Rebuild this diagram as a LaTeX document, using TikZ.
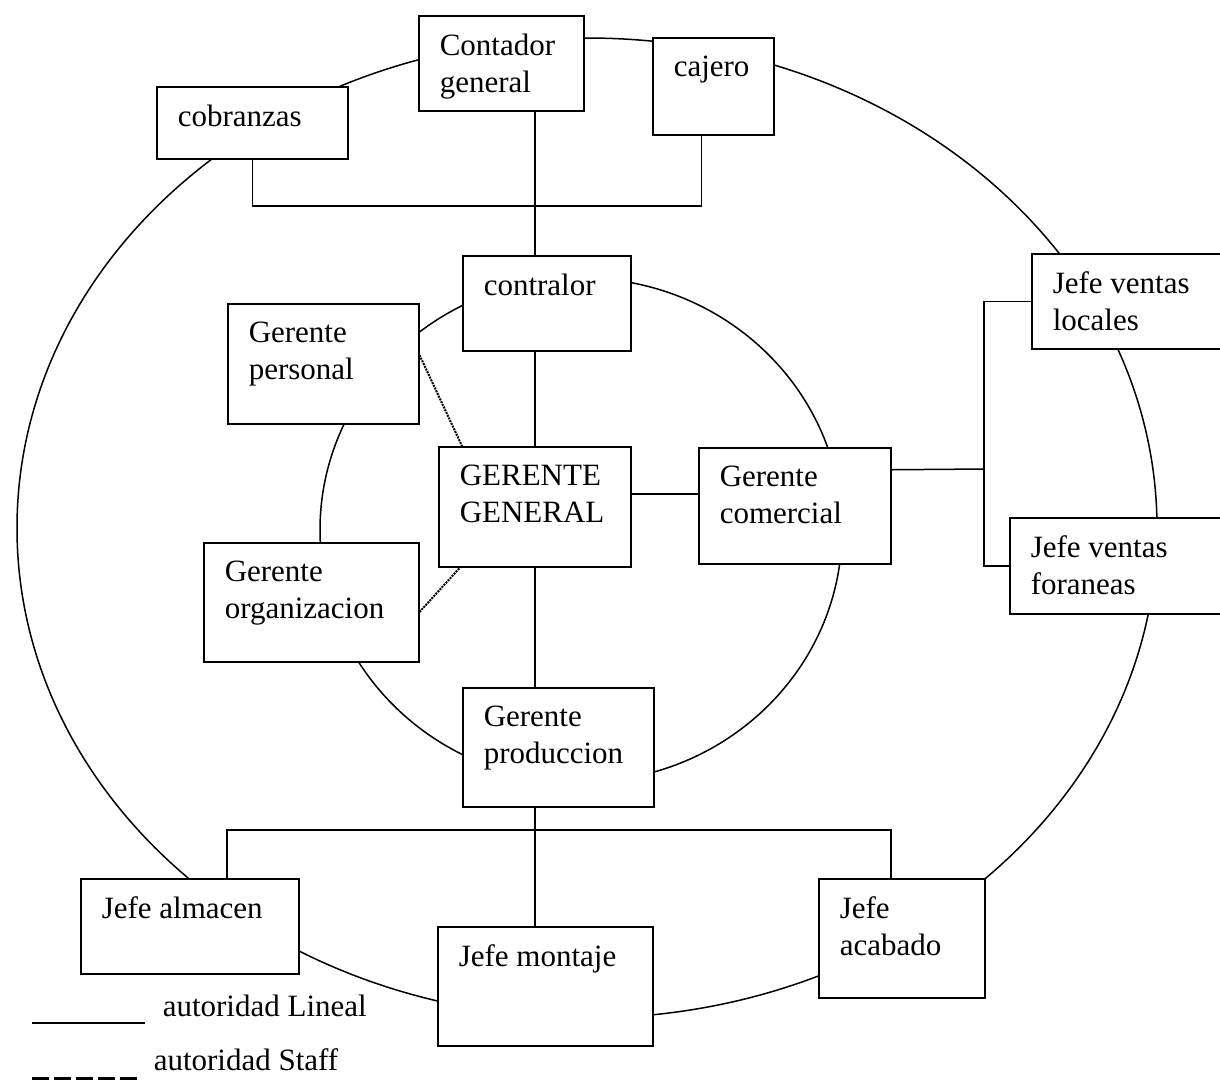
\documentclass[tikz,border=0pt]{standalone}
\usepackage{fontspec}
\setmainfont{Liberation Serif}
\usetikzlibrary{positioning}

\begin{document}
\begin{tikzpicture}[
    x=1pt, y=-1pt,
    line width=1.5pt,
    every node/.style={font=\fontsize{31}{37}\selectfont},
    unit/.style 2 args={draw, fill=white, anchor=north west, inner xsep=21pt, inner ysep=18pt,
        execute at begin node={\begin{minipage}[t][\dimexpr#2pt-36pt\relax][t]{\dimexpr#1pt-42pt\relax}},
        execute at end node={\end{minipage}}},
    staff/.style={densely dotted, line width=2pt},
    legend/.style={anchor=base west, inner sep=0pt}
]
\clip (0,0) rectangle (1220,1080);

\draw (587,528) ellipse [x radius=570pt, y radius=490pt];
\draw (581,530) ellipse [x radius=261pt, y radius=252pt];

\node[unit={165}{95}] (contador) at (418,15) {Contador\\general};
\node[unit={121}{97}] (cajero) at (652,37) {cajero};
\node[unit={191}{72}] (cobranzas) at (156,86) {cobranzas};
\node[unit={168}{95}] (contralor) at (462,255) {contralor};
\node[unit={191}{120}] (personal) at (227,303) {Gerente\\personal};
\node[unit={192}{120}] (gg) at (438,446) {GERENTE\\GENERAL};
\node[unit={192}{116}] (comercial) at (698,447) {Gerente\\comercial};
\node[unit={215}{119}] (organizacion) at (203,542) {Gerente\\organizacion};
\node[unit={191}{119}] (produccion) at (462,687) {Gerente\\produccion};
\node[unit={220}{95}] (locales) at (1031,253) {Jefe ventas\\locales};
\node[unit={240}{96}] (foraneas) at (1009,517) {Jefe ventas\\foraneas};
\node[unit={218}{95}] (almacen) at (80,878) {Jefe almacen};
\node[unit={215}{119}] (montaje) at (437,926) {Jefe montaje};
\node[unit={166}{119}] (acabado) at (818,878) {Jefe\\acabado};

\coordinate (cajbar) at (534,206);
\coordinate (ventas) at (984,469);
\coordinate (prodbar) at (534,830);

\draw (contador.south -| gg) -- (contralor.north -| gg);
\draw (cobranzas.south) |- (cajbar) -| ([xshift=-12pt]cajero.south);
\draw (contralor.south -| gg) -- (gg.north);
\draw ([yshift=13pt]gg.east) -- ([yshift=13pt]gg.east -| comercial.west);
\draw ([yshift=36pt]comercial.east) -- (ventas);
\draw (locales.west) -| (ventas) |- (foraneas.west);
\draw (gg.south) -- (produccion.north -| gg);
\draw (produccion.south -| gg) -- (montaje.north -| gg);
\draw ([xshift=37pt]almacen.north) |- (prodbar) -| ([xshift=-11pt]acabado.north);
\draw[staff] ([yshift=-52pt]personal.north east) -- ([xshift=24pt]gg.north west);
\draw[staff] ([yshift=-70pt]organizacion.north east) -- ([xshift=22pt]gg.south west);

\draw (32,1023) -- (145,1023);
\node[legend] (lineal) at (162,1016) {autoridad Lineal};
\draw[dash pattern=on 17pt off 5pt, line width=3pt] (32,1078) -- (140,1078);
\node[legend] (staffnote) at (153,1070) {autoridad Staff};

\end{tikzpicture}
\end{document}
